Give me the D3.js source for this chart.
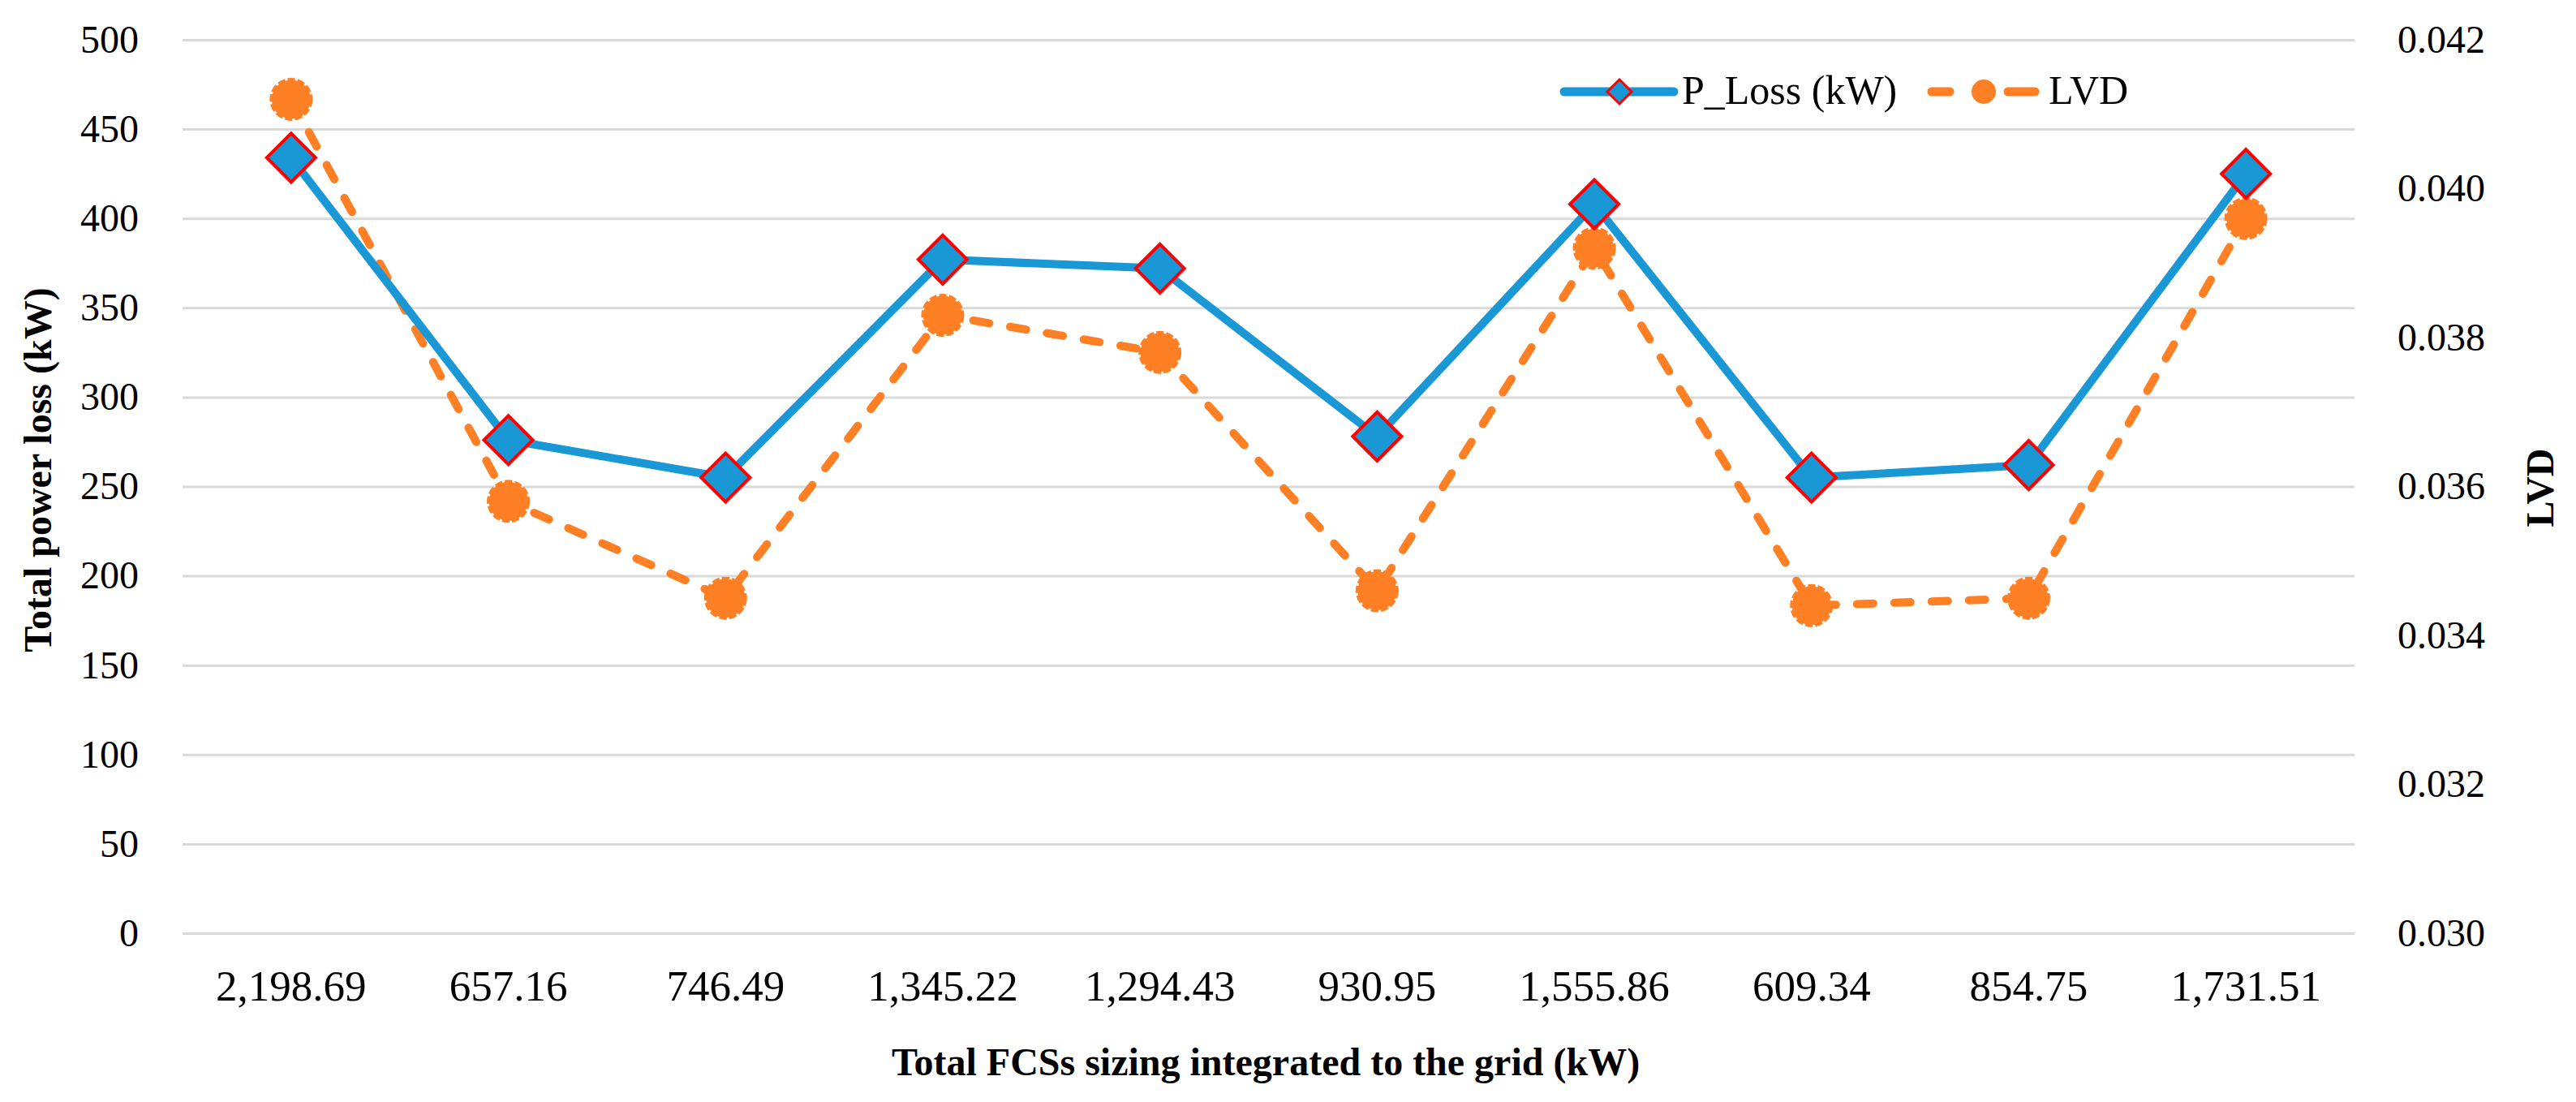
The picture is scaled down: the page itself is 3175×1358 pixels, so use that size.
<!DOCTYPE html>
<html>
<head>
	<meta charset="utf-8">
	<title>Total power loss and LVD</title>
	<script src="https://cdn.jsdelivr.net/npm/d3@7"></script>
	<style type="text/css">
		html, body {
			margin: 0;
			padding: 0;
			background: white;
		}
		svg {
			display: block;
			font-family: 'Liberation Serif', serif;
		}
		.grid line {
			stroke: #d9d9d9;
			stroke-width: 3;
		}
		.grid path {
			display: none;
		}
	</style>
</head>
<body>

<div id="vis"></div>

<script type="text/javascript">

// values
var sizing = ["2,198.69", "657.16", "746.49", "1,345.22", "1,294.43", "930.95", "1,555.86", "609.34", "854.75", "1,731.51"];
var pLoss = [434, 276, 255, 377, 372, 278, 408, 255, 262, 425];
var lvd = [0.0412, 0.0358, 0.0345, 0.0383, 0.0378, 0.0346, 0.0392, 0.0344, 0.0345, 0.0396];
var leftTicks = [0, 50, 100, 150, 200, 250, 300, 350, 400, 450, 500];
var rightTicks = [0.030, 0.032, 0.034, 0.036, 0.038, 0.040, 0.042];

var width = 3175;
var height = 1358;

var blue = "#1a98d5";
var orange = "#fe7f24";

// plot box (window.top is taken, so no plain "top")
var plotLeft = 225, plotRight = 2902, plotTop = 49, plotBottom = 1150;

var svg = d3.select("#vis").append("svg")
	.attr("width", width)
	.attr("height", height);

svg.append("rect")
	.attr("width", width)
	.attr("height", height)
	.attr("fill", "white");

var x = d3.scaleBand()
	.domain(sizing)
	.range([plotLeft, plotRight]);

var yL = d3.scaleLinear()
	.domain([0, 500])
	.range([plotBottom, plotTop]);

var yR = d3.scaleLinear()
	.domain([0.030, 0.042])
	.range([plotBottom, plotTop]);

function cx(d) {
	return x(d) + x.bandwidth() / 2;
}

// gridlines + left ticks
var gLeft = svg.append("g")
	.attr("class", "grid")
	.attr("transform", "translate(" + plotLeft + ",0)")
	.call(d3.axisLeft(yL)
		.tickValues(leftTicks)
		.tickSize(-(plotRight - plotLeft))
		.tickPadding(54));

gLeft.selectAll("text")
	.attr("x", -54)
	.style("font-size", "48px")
	.style("font-family", "'Liberation Serif', serif")
	.attr("fill", "#000");

// right ticks
var gRight = svg.append("g")
	.attr("transform", "translate(" + plotRight + ",0)")
	.call(d3.axisRight(yR)
		.tickValues(rightTicks)
		.tickFormat(d3.format(".3f"))
		.tickSize(0)
		.tickPadding(53));

gRight.select(".domain").remove();
gRight.selectAll("text")
	.style("font-size", "48px")
	.style("font-family", "'Liberation Serif', serif")
	.attr("fill", "#000");

// x ticks
var gBottom = svg.append("g")
	.attr("transform", "translate(0," + plotBottom + ")")
	.call(d3.axisBottom(x)
		.tickSize(0)
		.tickPadding(45));

gBottom.select(".domain").remove();
gBottom.selectAll("text")
	.style("font-size", "53px")
	.style("font-family", "'Liberation Serif', serif")
	.attr("fill", "#000");

// axis titles
svg.append("text")
	.attr("transform", "translate(63,579) rotate(-90)")
	.attr("text-anchor", "middle")
	.style("font-size", "48px")
	.style("font-weight", "bold")
	.text("Total power loss (kW)");

svg.append("text")
	.attr("transform", "translate(3147,601) rotate(-90)")
	.attr("text-anchor", "middle")
	.style("font-size", "48px")
	.style("font-weight", "bold")
	.text("LVD");

svg.append("text")
	.attr("x", 1560)
	.attr("y", 1325)
	.attr("text-anchor", "middle")
	.style("font-size", "48px")
	.style("font-weight", "bold")
	.text("Total FCSs sizing integrated to the grid (kW)");

// LVD dashed line
var lineR = d3.line()
	.x(function(d, i) { return cx(sizing[i]); })
	.y(function(d) { return yR(d); });

svg.append("path")
	.datum(lvd)
	.attr("d", lineR)
	.attr("fill", "none")
	.attr("stroke", orange)
	.attr("stroke-width", 10)
	.attr("stroke-dasharray", "20 26")
	.attr("stroke-linecap", "round")
	.attr("stroke-linejoin", "round");

svg.selectAll(".lvdDot")
	.data(lvd)
	.enter().append("circle")
	.attr("class", "lvdDot")
	.attr("cx", function(d, i) { return cx(sizing[i]); })
	.attr("cy", function(d) { return yR(d); })
	.attr("r", 24)
	.attr("fill", orange)
	.attr("stroke", orange)
	.attr("stroke-width", 5)
	.attr("stroke-dasharray", "9 3");

// P_Loss solid line
var lineL = d3.line()
	.x(function(d, i) { return cx(sizing[i]); })
	.y(function(d) { return yL(d); });

svg.append("path")
	.datum(pLoss)
	.attr("d", lineL)
	.attr("fill", "none")
	.attr("stroke", blue)
	.attr("stroke-width", 10)
	.attr("stroke-linejoin", "round");

var diamond = d3.symbol().type(d3.symbolSquare).size(1800);

svg.selectAll(".lossDot")
	.data(pLoss)
	.enter().append("path")
	.attr("class", "lossDot")
	.attr("d", diamond)
	.attr("transform", function(d, i) {
		return "translate(" + cx(sizing[i]) + "," + yL(d) + ") rotate(45)";
	})
	.attr("fill", blue)
	.attr("stroke", "#ff0000")
	.attr("stroke-width", 4);

// legend
var legend = svg.append("g");

legend.append("line")
	.attr("x1", 1928).attr("x2", 2063)
	.attr("y1", 113).attr("y2", 113)
	.attr("stroke", blue)
	.attr("stroke-width", 11)
	.attr("stroke-linecap", "round");

legend.append("path")
	.attr("d", d3.symbol().type(d3.symbolSquare).size(450))
	.attr("transform", "translate(1996,113) rotate(45)")
	.attr("fill", blue)
	.attr("stroke", "#ff0000")
	.attr("stroke-width", 3);

legend.append("text")
	.attr("x", 2073)
	.attr("y", 128)
	.style("font-size", "50px")
	.text("P_Loss (kW)");

legend.append("line")
	.attr("x1", 2381).attr("x2", 2508)
	.attr("y1", 113).attr("y2", 113)
	.attr("stroke", orange)
	.attr("stroke-width", 11)
	.attr("stroke-dasharray", "22 72 33")
	.attr("stroke-linecap", "round");

legend.append("circle")
	.attr("cx", 2445)
	.attr("cy", 113)
	.attr("r", 15)
	.attr("fill", orange);

legend.append("text")
	.attr("x", 2525)
	.attr("y", 128)
	.style("font-size", "50px")
	.text("LVD");

</script>

</body>
</html>
